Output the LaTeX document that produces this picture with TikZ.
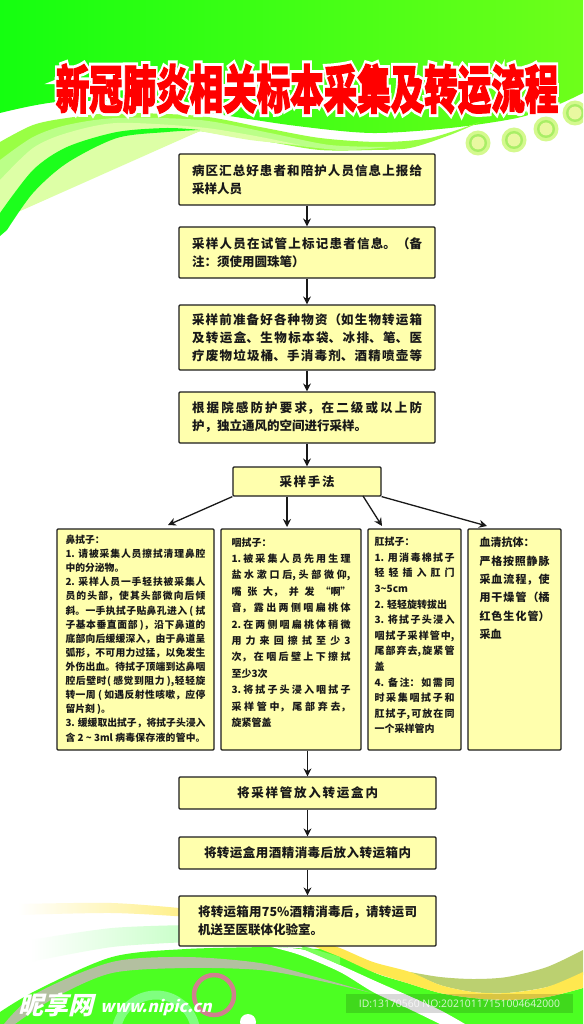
\documentclass[tikz,border=0pt]{standalone}
\usepackage{fontspec}
\setmainfont{Noto Sans CJK SC}
\newfontfamily\titleback[BoldFeatures={FakeBold=14}]{Noto Sans CJK SC}
\newfontfamily\titlefront[BoldFeatures={FakeBold=2.5}]{Noto Sans CJK SC}
\newfontfamily\markfont[BoldFeatures={FakeSlant=0.25}]{Noto Sans CJK SC}
\newfontfamily\idfont{Open Sans}
\XeTeXlinebreaklocale "zh"
\XeTeXlinebreakskip=0pt plus 6pt
\tolerance=10000
\hbadness=10000
\hfuzz=3pt
\usetikzlibrary{arrows.meta,positioning,calc}
\newcommand{\brk}{\linebreak}
\newcommand{\fillend}{\parfillskip=0pt\par}
\newcommand{\titletext}{\scalebox{1}[1.55]{新冠肺炎相关标本采集及转运流程}}
\definecolor{boxfill}{HTML}{FFFFAD}
\definecolor{boxline}{HTML}{1C1C1C}
\definecolor{headleft}{HTML}{14FF10}
\definecolor{headright}{HTML}{6EFF1A}
\definecolor{footgreen}{HTML}{4CFF22}
\definecolor{swooshA}{HTML}{99FF44}
\definecolor{swooshB}{HTML}{BBFF88}
\definecolor{swooshC}{HTML}{DDFFA6}
\definecolor{swooshD}{HTML}{1CFF1C}
\definecolor{dotout}{HTML}{D4F98E}
\definecolor{dotmid}{HTML}{A9EE66}
\definecolor{dotin}{HTML}{E9F8A0}
\definecolor{bandyellow}{HTML}{FFE84F}
\definecolor{bandolive}{HTML}{BBD070}
\definecolor{bandgray}{HTML}{B3C0A0}
\definecolor{ringpink}{HTML}{D0808F}

\begin{document}
\begin{tikzpicture}[x=1pt, y=-1pt, >={Stealth[length=8pt,width=8pt]},
    flowbox/.style={draw=boxline, fill=boxfill, line width=1.2pt, rounded corners=1pt, inner xsep=0pt, inner ysep=0pt,
        font=\bfseries\fontsize{12.5}{18}\selectfont, align=justify, text=black!90},
    wide/.style={flowbox, text width=230pt, minimum width=256pt},
    noseb/.style={flowbox, text width=140pt, minimum width=157pt, font=\bfseries\fontsize{9.8}{14.12}\selectfont},
    throatb/.style={flowbox, text width=119pt, minimum width=140pt, font=\bfseries\fontsize{10}{16.4}\selectfont},
    analb/.style={flowbox, text width=80pt, minimum width=93pt, font=\bfseries\fontsize{10}{15.6}\selectfont},
    serumb/.style={flowbox, text width=70pt, minimum width=93pt, font=\bfseries\fontsize{11}{18.4}\selectfont},
    flow/.style={->, line width=1.3pt, black!90}]
  \clip (0,0) rectangle (583,1024);
  \useasboundingbox (0,0) rectangle (583,1024);
  \fill[white] (0,0) rectangle (583,1024);
  % ---------------- top: green head and swoosh ----------------
  \shade[left color=headleft, right color=headright] (0,0) -- (583,0) -- plot[smooth] coordinates {(583,93) (557,105) (517,118) (450,128) (372,133) (297,126) (223,115) (140,102) (57,102) (0,113)} -- cycle;
  \fill[swooshA] plot[smooth] coordinates {(0,142) (33,125) (67,118) (117,113) (200,116) (260,127) (320,138) (380,142) (430,138) (480,122)} -- plot[smooth] coordinates {(480,122) (450,135) (410,148) (372,150) (320,150) (270,142) (223,134) (200,131)} -- (0,200) -- cycle;
  \fill[swooshB] plot[smooth] coordinates {(0,160) (33,137) (67,125) (117,118) (200,120) (270,133) (330,145) (390,147)} -- plot[smooth] coordinates {(390,147) (340,150) (270,142) (200,131)} -- (0,210) -- cycle;
  \fill[swooshC] plot[smooth] coordinates {(0,180) (33,148) (67,133) (117,123) (197,127) (250,135) (300,145)} -- plot[smooth] coordinates {(300,145) (250,140) (200,131)} -- (0,220) -- cycle;
  \fill[swooshD] plot[smooth] coordinates {(0,213) (33,170) (67,147) (117,132) (167,128) (200,130)} -- plot[smooth] coordinates {(200,130) (167,132) (117,138) (67,163) (33,193) (7,230)} -- (0,236) -- cycle;
  \foreach \cx/\cy in {478/143,514/140,546/129,575/113} {
     \fill[dotout] (\cx,\cy) circle (12.5);
     \fill[dotmid] (\cx,\cy) circle (9);
     \fill[dotin] (\cx,\cy) circle (6.5);
  }
  \node[font=\titleback\bfseries\fontsize{33.5}{36}\selectfont, text=white, inner sep=0pt] (titleb) at (307,89) {\titletext};
  \node[font=\titlefront\bfseries\fontsize{33.5}{36}\selectfont, text=red, inner sep=0pt] (titlef) at (307,89) {\titletext};
  % ---------------- bottom: bands, rings ----------------
  \shade[left color=white, right color=bandyellow!70!white] plot[smooth] coordinates {(18,904) (112,903) (190,909)} -- (190,917) -- plot[smooth] coordinates {(190,917) (112,913) (18,915)} -- cycle;
  \shade[left color=white, right color=green!22!white] plot[smooth] coordinates {(30,940) (112,928) (190,925)} -- (190,942) -- plot[smooth] coordinates {(190,942) (112,947) (30,962)} -- cycle;
  \fill[footgreen] (0,1024) -- plot[smooth] coordinates {(0,1012) (37,990) (112,957) (186,949) (271,947)} -- (340,950) -- plot[smooth] coordinates {(340,950) (373,972) (407,983) (440,993) (473,998) (507,1000) (547,997) (583,988)} -- (583,1024) -- cycle;
  \fill[bandolive] plot[smooth] coordinates {(410,972) (440,977) (473,979) (507,977) (547,967) (583,950)} -- (583,975) -- plot[smooth] coordinates {(583,975) (547,987) (507,993) (473,992) (440,985) (410,972)} -- cycle;
  \fill[bandyellow] plot[smooth] coordinates {(310,938) (340,948) (373,962) (410,972) (440,985) (473,992) (507,993) (547,987) (583,972)} -- (583,988) -- plot[smooth] coordinates {(583,988) (547,997) (507,1000) (473,998) (440,993) (407,983) (373,972) (340,957) (310,945)} -- cycle;
  \fill[white] plot[smooth] coordinates {(271,947) (305,950) (340,965) (373,980) (407,995) (440,1010) (465,1024)} -- (440,1024) -- plot[smooth] coordinates {(440,1024) (407,1008) (373,992) (340,972) (300,955) (271,947)} -- cycle;
  \fill[footgreen!75!white] plot[smooth] coordinates {(300,945) (340,957)} -- (340,965) -- (305,950) -- cycle;
  \fill[bandgray] plot[smooth] coordinates {(4,1024) (37,993) (112,962) (186,957) (260,963) (316,977) (372,993)} -- plot[smooth] coordinates {(372,993) (316,980) (260,970) (186,968) (112,973) (56,997) (15,1024)} -- cycle;
  \draw[line width=9pt, green!50!white] (156,1035) circle (40);
  \draw[line width=4.5pt, ringpink] (214,995) circle (20);
  \fill[white] (248,1022) circle (8);
  % ---------------- flow boxes ----------------
  \node[wide, minimum height=51pt] (report) at (307,179.5) {病区汇总好患者和陪护人员信息上报给\brk 采样人员};
  \node[wide, minimum height=51pt] (label) at (307,252.5) {采样人员在试管上标记患者信息。（备\brk 注：须使用圆珠笔）};
  \node[wide, minimum height=65pt] (supply) at (307,337.5) {采样前准备好各种物资（如生物转运箱\brk 及转运盒、生物标本袋、冰排、笔、医\brk 疗废物垃圾桶、手消毒剂、酒精喷壶等\fillend};
  \node[wide, minimum height=51pt] (room) at (307,417.5) {根据院感防护要求，在二级或以上防\brk 护，独立通风的空间进行采样。};
  \node[flowbox, text width=55pt, minimum width=148pt, minimum height=29pt] (method) at (307,481.5) {采样手法\fillend};
  % ---------------- row of four methods ----------------
  \node[noseb, minimum height=221pt] (nose) at (135.5,639.5) {鼻拭子：\newline 1. 请被采集人员擦拭清理鼻腔\brk 中的分泌物。\newline 2. 采样人员一手轻扶被采集人\brk 员的头部，使其头部微向后倾\brk 斜。一手执拭子贴鼻孔进入 ( 拭\brk 子基本垂直面部 )，沿下鼻道的\brk 底部向后缓缓深入，由于鼻道呈\brk 弧形，不可用力过猛，以免发生\brk 外伤出血。待拭子顶端到达鼻咽\brk 腔后壁时( 感觉到阻力 ),轻轻旋\brk 转一周 ( 如遇反射性咳嗽，应停\brk 留片刻 )。\newline 3. 缓缓取出拭子，将拭子头浸入\brk 含 2 \textasciitilde\ 3ml 病毒保存液的管中。\fillend\vspace{2pt}};
  \node[throatb, minimum height=221pt] (throat) at (291,639.5) {咽拭子：\newline 1.被采集人员先用生理\brk 盐水漱口后,头部微仰,\brk 嘴张大，并发“啊”\brk 音，露出两侧咽扁桃体\brk 2.在两侧咽扁桃体稍微\brk 用力来回擦拭至少3\brk 次，在咽后壁上下擦拭\brk 至少3次\newline 3.将拭子头浸入咽拭子\brk 采样管中，尾部弃去，\brk 旋紧管盖\par\vspace{14pt}};
  \node[analb, minimum height=221pt] (anal) at (414.5,639.5) {肛拭子：\newline 1. 用消毒棉拭子\brk 轻轻插入肛门\brk 3\textasciitilde 5cm\newline 2. 轻轻旋转拔出\newline 3. 将拭子头浸入\brk 咽拭子采样管中,\brk 尾部弃去,旋紧管\brk 盖\newline 4. 备注：如需同\brk 时采集咽拭子和\brk 肛拭子,可放在同\brk 一个采样管内\par\vspace{8pt}};
  \node[serumb, minimum height=221pt] (serum) at (514.5,639.5) {血清抗体：\newline 严格按照静脉\brk 采血流程，使\brk 用干燥管（橘\brk 红色生化管）\brk 采血\par\vspace{102pt}};
  % ---------------- last three boxes ----------------
  \node[flowbox, text width=141pt, minimum width=257pt, minimum height=32pt] (tobox) at (307.5,793) {将采样管放入转运盒内\fillend};
  \node[flowbox, text width=207pt, minimum width=257pt, minimum height=32pt] (disinfect) at (307.5,853) {将转运盒用酒精消毒后放入转运箱内\fillend};
  \node[flowbox, text width=219pt, minimum width=257pt, minimum height=50pt] (send) at (307.5,921) {将转运箱用75\%酒精消毒后，请转运司\brk 机送至医联体化验室。};
  % ---------------- arrows ----------------
  \foreach \a/\b in {report/label,label/supply,supply/room,room/method,tobox/disinfect,disinfect/send} {
     \draw[flow] (\a) -- (\b);
  }
  \coordinate (tipa) at (168,525); \coordinate (tipb) at (287,527);
  \coordinate (taild) at (363,496); \coordinate (tipd) at (382,526); \coordinate (tipe) at (487,526);
  \draw[flow] (method.south west) -- (tipa);
  \draw[flow] (tipb |- method.south) -- (tipb);
  \draw[flow] (taild) -- (tipd);
  \draw[flow] (method.south east) -- (tipe);
  \draw[flow] (tobox.north |- throat.south) -- (tobox.north);
  % ---------------- site marks ----------------
  \node[font=\markfont\bfseries\fontsize{25}{25}\selectfont, text=white, inner sep=0pt] (markcn) at (56,1005) {昵享网};
  \node[font=\markfont\bfseries\fontsize{16}{16}\selectfont, text=white, inner sep=0pt] (markweb) at (156,1007) {www.nipic.cn};
  \node[fill=black, fill opacity=0.15, text opacity=0.8, text=white, minimum width=227pt, minimum height=19pt, inner sep=0pt, font=\idfont\fontsize{10.4}{12}\selectfont] (idbar) at (459.5,1003.5) {ID:13170560 NO:20210117151004642000};
\end{tikzpicture}
\end{document}
